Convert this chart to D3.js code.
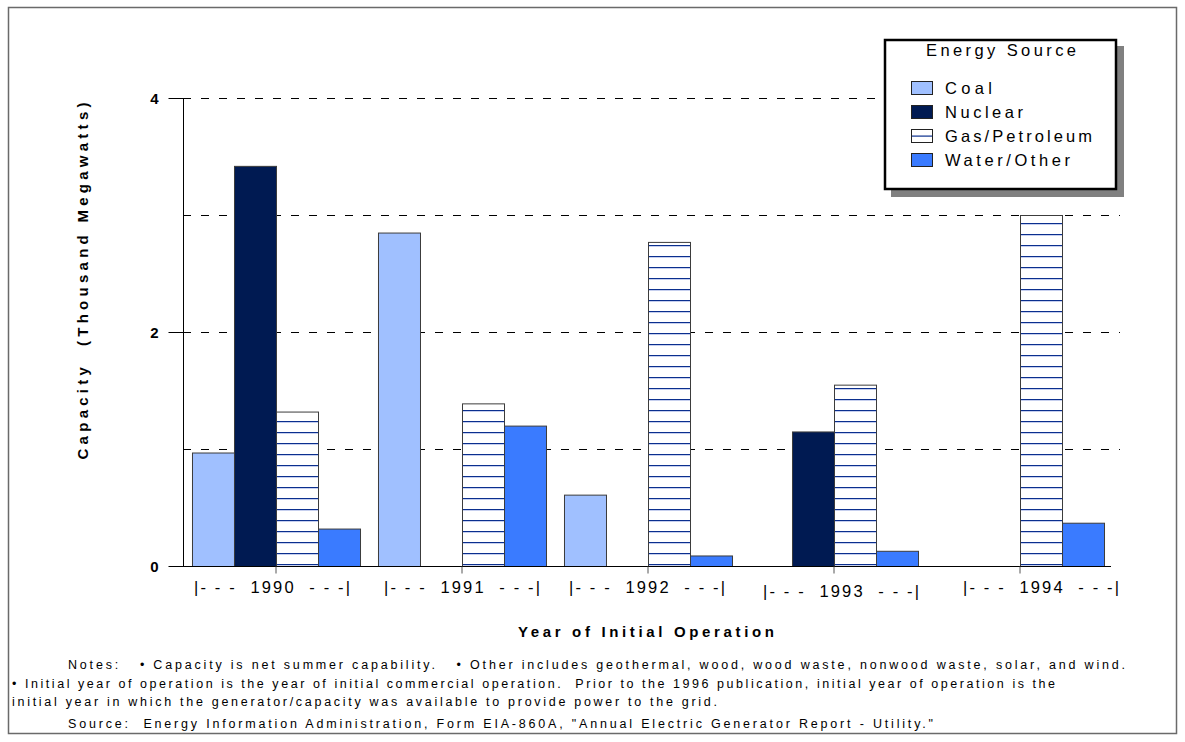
<!DOCTYPE html>
<html>
<head>
<meta charset="utf-8">
<script src="https://cdn.jsdelivr.net/npm/d3@7"></script>
<style>
  html, body { margin: 0; padding: 0; background: #fff; }
  svg { display: block; }
  text { font-family: "Liberation Sans", Arial, Helvetica, sans-serif; white-space: pre; }
</style>
</head>
<body>
<svg id="chart" width="1185" height="742"></svg>
<script>
// ---- data ----
const years = ["1990", "1991", "1992", "1993", "1994"];
const series = ["Coal", "Nuclear", "Gas/Petroleum", "Water/Other"];
const coal    = [0.97, 2.85, 0.61, 0.00, 0.00];
const nuclear = [3.42, 0.00, 0.00, 1.15, 0.00];
const gasPetroleum = [1.32, 1.39, 2.77, 1.55, 3.00];
const waterOther   = [0.32, 1.20, 0.09, 0.13, 0.37];
const yTicks = [0, 2, 4];
const yGrid = [1, 2, 3, 4];
const tickLabels = ["|- - -  1990  - - -|", "|- - -  1991  - - -|", "|- - -  1992  - - -|", "|- - -  1993  - - -|", "|- - -  1994  - - -|"];
const legendTitle = "Energy Source";
const yTitle = "Capacity  (Thousand Megawatts)";
const xTitle = "Year of Initial Operation";
const notes = [
  "Notes:   \u2022 Capacity is net summer capability.   \u2022 Other includes geothermal, wood, wood waste, nonwood waste, solar, and wind.",
  "\u2022 Initial year of operation is the year of initial commercial operation.  Prior to the 1996 publication, initial year of operation is the",
  "initial year in which the generator/capacity was available to provide power to the grid.",
  "Source:  Energy Information Administration, Form EIA-860A, \"Annual Electric Generator Report - Utility.\""
];

// ---- layout / style ----
const values = [coal, nuclear, gasPetroleum, waterOther];
const colors = { "Coal": "#a0c0ff", "Nuclear": "#001a52", "Gas/Petroleum": "url(#hatch)", "Water/Other": "#3a7bff" };
const labelNudge = { "1990": [-4, 0], "1991": [0, 0], "1992": [-1, 0], "1993": [7, 4], "1994": [21, 0] };
const font = '"Liberation Sans", Arial, Helvetica, sans-serif';

const svg = d3.select("#chart");
const defs = svg.append("defs");
const pat = defs.append("pattern").attr("id", "hatch")
  .attr("patternUnits", "userSpaceOnUse").attr("x", 0).attr("y", 245).attr("width", 10).attr("height", 11);
pat.append("rect").attr("width", 10).attr("height", 11).attr("fill", "#fff");
pat.append("rect").attr("y", 0).attr("width", 10).attr("height", 1).attr("fill", "#0b2f8e");
pat.append("rect").attr("y", 1).attr("width", 10).attr("height", 1).attr("fill", "#c6cfee");

// outer frame
svg.append("rect").attr("x", 8.5).attr("y", 7.5).attr("width", 1168).attr("height", 726)
  .attr("fill", "none").attr("stroke", "#6a6a6a").attr("stroke-width", 1.5);

const x0 = d3.scaleBand().domain(years).range([183, 1113]).padding(0);
const x1 = d3.scaleBand().domain(series).range([0, x0.bandwidth()]).paddingInner(0).paddingOuter(0.214);
const y = d3.scaleLinear().domain([0, 4]).range([566, 98]);

// gridlines
svg.append("g").selectAll("line").data(yGrid).join("line")
  .attr("x1", 183).attr("x2", 1120)
  .attr("y1", d => Math.round(y(d)) + 0.5).attr("y2", d => Math.round(y(d)) + 0.5)
  .attr("stroke", "#000").attr("stroke-width", 1).attr("stroke-dasharray", "8,10");

// bars
const barData = [];
years.forEach((yr, i) => series.forEach((s, j) => {
  if (values[j][i] > 0) barData.push({ yr, s, v: values[j][i] });
}));
svg.append("g").selectAll("rect").data(barData).join("rect")
  .attr("x", d => x0(d.yr) + x1(d.s) + 0.5)
  .attr("y", d => y(d.v) + 0.5)
  .attr("width", x1.bandwidth())
  .attr("height", d => y(0) - y(d.v))
  .attr("fill", d => colors[d.s])
  .attr("stroke", "#3c3c3c").attr("stroke-width", 1);

// y axis
const yAxis = svg.append("g").attr("transform", "translate(183.5,0)")
  .call(d3.axisLeft(y).tickValues(yTicks).tickSize(15).tickFormat(d3.format("d")));
yAxis.select(".domain").attr("d", "M0," + y(4) + "V" + y(0)).attr("stroke", "#000");
yAxis.selectAll(".tick line").attr("stroke", "#000");
yAxis.selectAll(".tick text").attr("x", -25).attr("dy", "0.36em")
  .attr("font-family", font).attr("font-size", 15).attr("font-weight", "bold").attr("fill", "#000");

// x axis
const xAxis = svg.append("g").attr("transform", "translate(0," + (y(0) + 0.5) + ")")
  .call(d3.axisBottom(x0).tickSize(7).tickSizeOuter(0).tickFormat(""));
xAxis.select(".domain").attr("d", "M183,0H1111").attr("stroke", "#000");
xAxis.selectAll(".tick line").attr("stroke", "#555");

svg.append("g").selectAll("text").data(years).join("text")
  .attr("x", (d) => x0(d) + x0.bandwidth() / 2 + labelNudge[d][0])
  .attr("y", d => 593 + labelNudge[d][1])
  .attr("text-anchor", "middle")
  .attr("font-size", 16.5).attr("fill", "#000")
  .attr("textLength", 156).attr("lengthAdjust", "spacing")
  .text((d, i) => tickLabels[i]);

// axis titles
svg.append("text").attr("x", 646).attr("y", 637).attr("text-anchor", "middle")
  .attr("font-size", 15).attr("font-weight", "bold")
  .attr("textLength", 256).attr("lengthAdjust", "spacing").text(xTitle);
svg.append("text").attr("transform", "translate(88,281) rotate(-90)").attr("text-anchor", "middle")
  .attr("font-size", 15).attr("font-weight", "bold")
  .attr("textLength", 357).attr("lengthAdjust", "spacing").text(yTitle);

// legend
const lg = svg.append("g");
lg.append("rect").attr("x", 891).attr("y", 46).attr("width", 233).attr("height", 151).attr("fill", "#808080");
lg.append("rect").attr("x", 885).attr("y", 40).attr("width", 231).attr("height", 149)
  .attr("fill", "#fff").attr("stroke", "#000").attr("stroke-width", 2.5);
lg.append("text").attr("x", 1001).attr("y", 56).attr("text-anchor", "middle")
  .attr("font-size", 16.5).attr("textLength", 150).attr("lengthAdjust", "spacing").text(legendTitle);
const legendW = { "Coal": 47, "Nuclear": 78, "Gas/Petroleum": 147, "Water/Other": 125 };
const li = lg.selectAll("g.item").data(series).join("g").attr("class", "item")
  .attr("transform", (d, i) => "translate(0," + (i * 24) + ")");
li.append("rect").attr("x", 911.5).attr("y", 81.5).attr("width", 21).attr("height", 13)
  .attr("fill", d => d === "Gas/Petroleum" ? "#fff" : colors[d]).attr("stroke", "#222").attr("stroke-width", 1);
li.filter(d => d === "Gas/Petroleum").append("rect").attr("x", 912).attr("y", 87.5).attr("width", 20).attr("height", 1.2).attr("fill", "#0b2f8e");
li.append("text").attr("x", 945).attr("y", 94).attr("font-size", 16.5)
  .attr("textLength", d => legendW[d]).attr("lengthAdjust", "spacing").text(d => d);

// notes
const noteX = [68, 12, 12, 68];
const noteY = [669, 688, 706, 728];
const noteW = [1057, 1043, 705, 865];
svg.append("g").selectAll("text").data(notes).join("text")
  .attr("x", (d, i) => noteX[i]).attr("y", (d, i) => noteY[i])
  .attr("font-size", 12.5).attr("fill", "#000")
  .attr("textLength", (d, i) => noteW[i]).attr("lengthAdjust", "spacing")
  .text(d => d);
</script>
</body>
</html>
